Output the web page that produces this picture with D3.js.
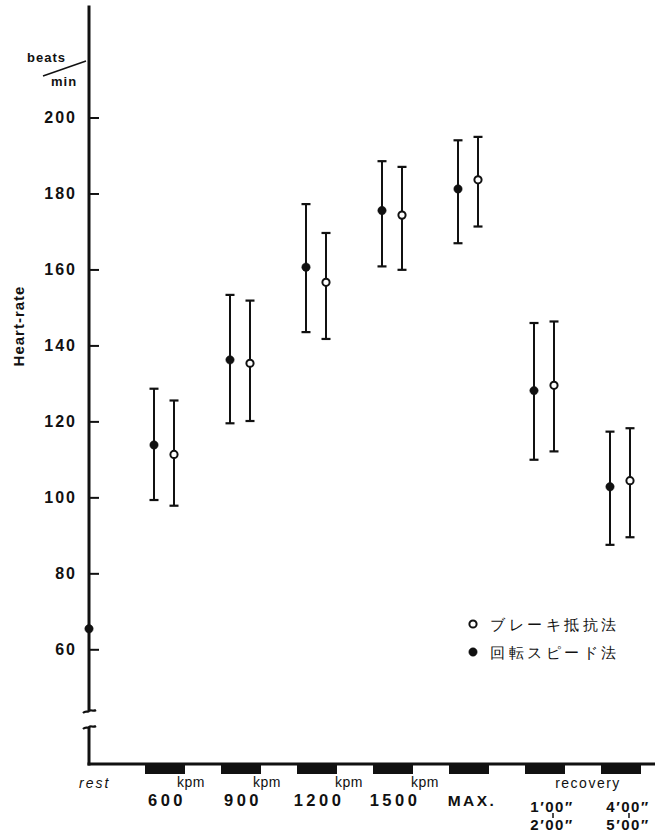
<!DOCTYPE html>
<html><head><meta charset="utf-8">
<script src="https://cdn.jsdelivr.net/npm/d3@7"></script>
<style>
html,body{margin:0;padding:0;background:#fff;}
svg{display:block;}
text{font-family:"Liberation Sans","DejaVu Sans",sans-serif;fill:#111;}
</style></head>
<body>
<svg id="c" width="655" height="835"></svg>
<script>
// ---- data ----
const categories = ["rest","600","900","1200","1500","MAX","rec1","rec2"];
// 回転スピード法 (filled): mean, lower, upper
const speedMean  = [65.4, 113.8, 136.2, 160.6, 175.5, 181.2, 128.1, 102.8];
const speedLow   = [null,  99.3, 119.5, 143.5, 160.8, 166.9, 109.9,  87.5];
const speedHigh  = [null, 128.6, 153.3, 177.2, 188.5, 194.0, 145.9, 117.3];
// ブレーキ抵抗法 (open)
const brakeMean  = [null, 111.3, 135.3, 156.6, 174.3, 183.6, 129.5, 104.4];
const brakeLow   = [null,  97.8, 120.1, 141.7, 159.9, 171.3, 112.1,  89.5];
const brakeHigh  = [null, 125.5, 151.8, 169.6, 187.0, 194.9, 146.3, 118.2];
const yTicks = [60, 80, 100, 120, 140, 160, 180, 200];
const legendLabels = ["ブレーキ抵抗法", "回転スピード法"];

// ---- layout ----
const svg = d3.select("#c");
const x = d3.scalePoint().domain(categories).range([89, 621]);
const y = d3.scaleLinear().domain([60, 200]).range([649.3, 117.5]);
const axisX = 89, axisBottom = 764;
const ink = "#111";

// y axis line with break
svg.append("line").attr("x1", axisX).attr("x2", axisX)
  .attr("y1", y(229.5)).attr("y2", 711).attr("stroke", ink).attr("stroke-width", 3);
svg.append("line").attr("x1", axisX).attr("x2", axisX)
  .attr("y1", 727).attr("y2", axisBottom + 1.5).attr("stroke", ink).attr("stroke-width", 3);
// break squiggles
function squiggle(cy) {
  svg.append("path")
    .attr("d", `M${axisX-6},${cy + 2} C${axisX-3},${cy - 1} ${axisX-1},${cy + 2} ${axisX},${cy} C${axisX+2},${cy - 2} ${axisX+4},${cy+1} ${axisX+7},${cy - 1}`)
    .attr("fill", "none").attr("stroke", ink).attr("stroke-width", 2.2);
}
squiggle(711);
squiggle(727);

// y ticks via axis
const yAxis = d3.axisLeft(y).tickValues(yTicks).tickSizeInner(-10).tickSizeOuter(0).tickPadding(12);
const gy = svg.append("g").attr("transform", `translate(${axisX},0)`).call(yAxis);
gy.select(".domain").remove();
gy.selectAll(".tick line").attr("stroke", ink).attr("stroke-width", 2);
gy.selectAll(".tick text").attr("font-size", 16).attr("font-weight", "bold")
  .attr("letter-spacing", "2px").attr("fill", ink).attr("font-family", "'Liberation Sans','DejaVu Sans',sans-serif");

// y unit label
svg.append("text").attr("x", 27).attr("y", 62).attr("font-size", 13).attr("font-weight", "bold")
  .attr("letter-spacing", "1px").text("beats");
svg.append("line").attr("x1", 43).attr("y1", 76).attr("x2", 86).attr("y2", 61)
  .attr("stroke", ink).attr("stroke-width", 1.5);
svg.append("text").attr("x", 51).attr("y", 86).attr("font-size", 13).attr("font-weight", "bold")
  .attr("letter-spacing", "1px").text("min");

// y title
svg.append("text").attr("transform", "translate(24,326) rotate(-90)")
  .attr("text-anchor", "middle").attr("font-size", 15).attr("font-weight", "bold")
  .attr("letter-spacing", "1px")
  .text("Heart-rate");

// x axis line
svg.append("line").attr("x1", axisX - 1.5).attr("x2", 655).attr("y1", axisBottom).attr("y2", axisBottom)
  .attr("stroke", ink).attr("stroke-width", 3);
// black bars below axis for each load
svg.selectAll("rect.bar").data(categories.filter(c => c !== "rest")).enter().append("rect")
  .attr("class", "bar").attr("x", d => x(d) - 20).attr("width", 40)
  .attr("y", axisBottom).attr("height", 10).attr("fill", ink);

// x labels
const lab = (t, xx, yy, fs, ls, extra) => {
  const e = svg.append("text").attr("x", xx).attr("y", yy).attr("font-size", fs)
    .attr("font-weight", "bold").attr("letter-spacing", ls + "px").text(t);
  if (extra) extra(e);
  return e;
};
lab("rest", x("rest") - 10, 788, 14, 2, e => e.attr("font-style", "italic").attr("font-weight", "normal"));
const loads = ["600", "900", "1200", "1500"];
loads.forEach(c => {
  const cx = x(c) + 2;
  lab(c, cx, 806, 16.5, 3.5, e => e.attr("text-anchor", "middle"));
  lab("kpm", cx + 10 + (c.length - 3) * 6, 787, 14, 0.5, e => e.attr("font-weight", "normal"));
});
lab("MAX.", x("MAX") + 3, 806, 15.5, 2.5, e => e.attr("text-anchor", "middle"));
lab("recovery", (x("rec1") + x("rec2")) / 2 + 5, 788, 14, 1.5, e => e.attr("text-anchor", "middle").attr("font-weight", "normal"));
const recLabels = [["1′00″", "2′00″"], ["4′00″", "5′00″"]];
["rec1", "rec2"].forEach((c, i) => {
  const cx = x(c) + 7;
  lab(recLabels[i][0], cx, 812, 15, 1.5, e => e.attr("text-anchor", "middle"));
  lab(recLabels[i][1], cx, 830, 15, 1.5, e => e.attr("text-anchor", "middle"));
  svg.append("line").attr("x1", cx + 1).attr("x2", cx + 1).attr("y1", 813).attr("y2", 818)
    .attr("stroke", ink).attr("stroke-width", 1.5);
});

// ---- data marks ----
function series(mean, low, high, offset, filled) {
  categories.forEach((c, i) => {
    if (mean[i] == null) return;
    const cx = x(c) + (c === "rest" ? 0 : offset);
    if (low[i] != null) {
      svg.append("line").attr("x1", cx).attr("x2", cx).attr("y1", y(high[i])).attr("y2", y(low[i]))
        .attr("stroke", ink).attr("stroke-width", 2);
      [high[i], low[i]].forEach(v => {
        svg.append("line").attr("x1", cx - 4.5).attr("x2", cx + 4.5).attr("y1", y(v)).attr("y2", y(v))
          .attr("stroke", ink).attr("stroke-width", 2.2);
      });
    }
    svg.append("circle").attr("cx", cx).attr("cy", y(mean[i]))
      .attr("r", filled ? 4.2 : 3.6)
      .attr("fill", filled ? ink : "#fff").attr("stroke", ink).attr("stroke-width", filled ? 0.5 : 2);
  });
}
series(speedMean, speedLow, speedHigh, -11, true);
series(brakeMean, brakeLow, brakeHigh, 9, false);

// legend
const lg = svg.append("g");
[[624, false], [652, true]].forEach(([ly, filled], i) => {
  lg.append("circle").attr("cx", 473).attr("cy", ly).attr("r", filled ? 4.2 : 3.6)
    .attr("fill", filled ? ink : "#fff").attr("stroke", ink).attr("stroke-width", filled ? 0.5 : 2);
  lg.append("text").attr("x", 490).attr("y", ly + 6).attr("font-size", 14.5)
    .attr("letter-spacing", "3.5px")
    .attr("font-family", "'Noto Sans CJK JP',sans-serif").text(legendLabels[i]);
});
</script>
</body></html>
